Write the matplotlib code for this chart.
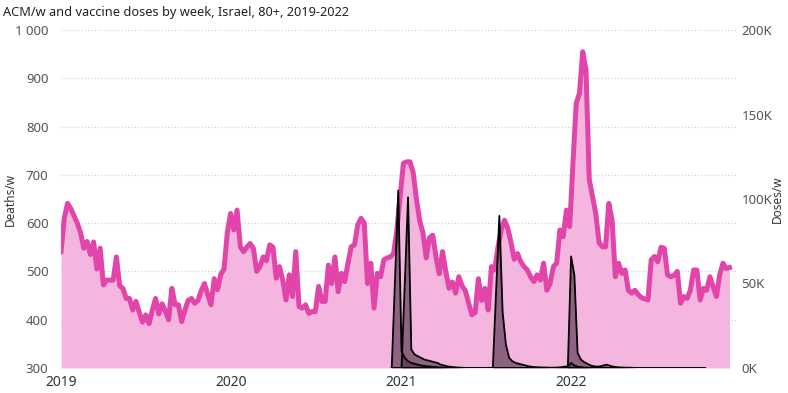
import matplotlib
matplotlib.use('Agg')
import matplotlib.pyplot as plt
import matplotlib.dates as mdates
import numpy as np
import pandas as pd

plt.rcParams['font.family'] = ['Noto Sans', 'DejaVu Sans']

# weekly all-cause deaths, 80+ (left axis)
deaths = [
    541, 610, 641, 630, 615, 600, 580, 548, 562, 535,
    561, 505, 548, 472, 482, 482, 482, 530, 470, 465,
    444, 444, 420, 438, 415, 395, 410, 392, 420, 444,
    412, 433, 418, 400, 465, 431, 431, 396, 420, 440,
    444, 434, 440, 460, 475, 452, 431, 485, 462, 494,
    505, 580, 620, 586, 627, 551, 541, 550, 558, 548,
    500, 510, 530, 522, 555, 550, 486, 510, 482, 441,
    493, 448, 541, 427, 424, 431, 413, 417, 417, 469,
    438, 438, 513, 475, 530, 458, 496, 479, 517, 551,
    555, 596, 610, 600, 475, 517, 424, 496, 489, 524,
    528, 530, 537, 586, 655, 724, 727, 727, 705, 650,
    605, 580, 528, 570, 575, 530, 495, 541, 500, 465,
    478, 455, 489, 470, 460, 435, 410, 415, 485, 440,
    465, 420, 510, 503, 550, 586, 606, 590, 560, 525,
    537, 520, 510, 503, 489, 479, 493, 482, 517, 461,
    475, 510, 517, 586, 572, 627, 593, 724, 848, 869,
    955, 917, 690, 655, 620, 560, 551, 551, 641, 606,
    489, 517, 496, 503, 461, 455, 461, 452, 446, 443,
    441, 524, 531, 520, 550, 548, 493, 489, 492, 500,
    434, 448, 444, 461, 503, 503, 441, 465, 461, 489,
    468, 448, 493, 517, 506, 508,
]
death_weeks = pd.date_range('2019-01-01', periods=len(deaths), freq='7D')

# weekly vaccine doses, 80+ (right axis)
dose1 = [0, 52000, 105000, 10000, 6000, 4000, 3000, 2500, 2000, 1500,
         1200, 1000, 800, 600, 400, 300, 200, 100] + [0] * 79
dose2 = [0, 0, 0, 0, 50000, 101000, 11000, 8000, 7000, 6000,
         5000, 4500, 4000, 3500, 3000, 2000, 1500, 1000, 700, 500,
         300, 200, 100] + [0] * 74
dose3 = [0] * 31 + [0, 45000, 90000, 33000, 14000, 6000, 4000, 3000, 2500, 2000,
                    1500, 1000, 700, 500, 400, 300, 300, 200, 200, 200,
                    300, 500, 800, 1000, 3000, 1500, 800, 500, 300, 200,
                    100] + [0] * 35
dose4 = [0] * 55 + [66000, 55000, 9000, 5000, 3500, 2500, 1500, 1000, 800, 1000,
                    1500, 2000, 1200, 800, 500, 300, 300, 200, 200, 100] + [0] * 22
dose_weeks = pd.date_range('2020-12-11', periods=len(dose1), freq='7D')

fig = plt.figure(figsize=(7.88, 3.93), dpi=100)
ax = fig.add_axes([61 / 788, 1 - 368 / 393, (736 - 61) / 788, (368 - 30) / 393])

ax.fill_between(death_weeks, deaths, 300, color='#F4B6DE', lw=0)
ax.plot(death_weeks, deaths, color='#E245AA', lw=3.6, solid_joinstyle='round')
ax.set_ylim(300, 1000)
ax.set_xlim(pd.Timestamp('2019-01-01'), pd.Timestamp('2022-12-20'))
ax.set_yticks(range(300, 1001, 100))
ax.set_yticklabels(['300', '400', '500', '600', '700', '800', '900', '1 000'])
ax.grid(axis='y', color='#cfcfcf', ls=(0, (1, 2)), lw=0.8)
ax.set_axisbelow(True)
ax.xaxis.set_major_locator(mdates.YearLocator())
ax.xaxis.set_major_formatter(mdates.DateFormatter('%Y'))
ax.set_ylabel('Deaths/w', fontsize=8.5, color='#333333')
ax.yaxis.set_label_coords(-0.066, 0.5)

ax2 = ax.twinx()
for d in [dose1, dose2, dose3, dose4]:
    ax2.fill_between(dose_weeks, d, 0, color='#4a2d43', alpha=0.6, lw=0)
    ax2.plot(dose_weeks, d, color='black', lw=1.3)
ax2.set_ylim(0, 200000)
ax2.set_yticks(range(0, 200001, 50000))
ax2.set_yticklabels(['0K', '50K', '100K', '150K', '200K'])
ax2.set_ylabel('Doses/w', fontsize=8.5, color='#333333')
ax2.yaxis.set_label_coords(1.051, 0.5)

for a in (ax, ax2):
    for s in a.spines.values():
        s.set_visible(False)
    a.tick_params(length=0, labelsize=9.5, labelcolor='#555555')
ax.tick_params(axis='x', pad=5, labelsize=10, labelcolor='#333333')
ax.tick_params(axis='y', pad=9)
ax2.tick_params(axis='y', pad=4)

fig.text(0.004, 0.985, 'ACM/w and vaccine doses by week, Israel, 80+, 2019-2022',
         fontsize=9.2, color='#222222', va='top', ha='left')

fig.savefig('out.png', dpi=100)
